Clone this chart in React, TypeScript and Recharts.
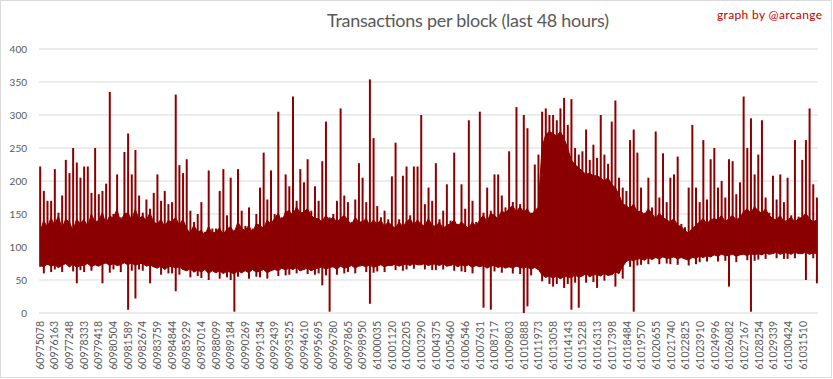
import React from "react";
import { ComposedChart, Area, Bar, XAxis, YAxis, CartesianGrid } from "recharts";

// block numbers shown under the x axis
const tickBlocks = [
  60975078, 60976163, 60977248, 60978333, 60979418, 60980504, 60981589, 60982674,
  60983759, 60984844, 60985929, 60987014, 60988099, 60989184, 60990269, 60991354,
  60992439, 60993525, 60994610, 60995695, 60996780, 60997865, 60998950, 61000035,
  61001120, 61002205, 61003290, 61004375, 61005460, 61006546, 61007631, 61008717,
  61009803, 61010888, 61011973, 61013058, 61014143, 61015228, 61016313, 61017398,
  61018484, 61019570, 61020655, 61021740, 61022825, 61023910, 61024996, 61026082,
  61027167, 61028254, 61029339, 61030424, 61031510,
];

const yTicks = [0, 50, 100, 150, 200, 250, 300, 350, 400];

// ~57k blocks in buckets of 271 blocks
const FIRST_BLOCK = 60975078;
const BUCKET = 271;

// top of the solid part of the band
const coreHigh = [
  122, 140, 130, 144, 133, 147, 128, 142, 138, 125, 142, 135, 142, 131, 150, 138,
  140, 152, 135, 147, 144, 157, 138, 150, 152, 141, 157, 143, 147, 140, 152, 138,
  135, 142, 131, 140, 138, 145, 133, 142, 128, 121, 133, 123, 125, 118, 131, 121,
  123, 129, 119, 127, 131, 121, 138, 128, 125, 133, 121, 135, 133, 128, 141, 135,
  143, 151, 138, 153, 155, 148, 161, 151, 153, 158, 148, 143, 143, 138, 148, 141,
  145, 138, 143, 148, 141, 133, 145, 138, 138, 143, 133, 141, 135, 141, 131, 138,
  133, 128, 138, 131, 138, 143, 133, 141, 135, 131, 143, 133, 131, 138, 128, 133,
  135, 141, 131, 138, 133, 128, 138, 131, 141, 148, 138, 151, 148, 143, 155, 151,
  158, 163, 153, 161, 153, 158, 148, 155, 160, 250, 270, 275, 272, 268, 275, 265,
  250, 232, 225, 220, 215, 210, 212, 208, 208, 205, 200, 205, 195, 190, 180, 165,
  163, 158, 165, 153, 155, 148, 158, 151, 143, 151, 145, 141, 138, 143, 133, 131,
  125, 121, 128, 133, 138, 143, 135, 141, 143, 141, 148, 138, 143, 148, 141, 145,
  153, 158, 151, 161, 155, 151, 158, 148, 143, 141, 148, 138, 141, 145, 138, 143,
  145, 151, 143, 138, 141,
];

// highest block in each bucket
const bucketPeak = [
  130, 165, 138, 170, 150, 152, 160, 145, 172, 130, 148, 165, 148, 160, 178, 142,
  180, 158, 140, 175, 150, 185, 145, 160, 190, 148, 165, 178, 152, 172, 158, 180,
  140, 170, 135, 165, 168, 150, 160, 148, 132, 155, 138, 150, 150, 123, 145, 128,
  128, 150, 125, 148, 160, 126, 142, 155, 132, 160, 128, 150, 165, 132, 172, 140,
  150, 180, 145, 185, 190, 155, 170, 178, 158, 195, 155, 170, 170, 142, 175, 145,
  150, 170, 148, 165, 168, 138, 172, 142, 145, 168, 138, 160, 162, 145, 155, 142,
  138, 160, 142, 165, 170, 148, 165, 145, 140, 165, 148, 170, 160, 142, 155, 138,
  140, 170, 135, 165, 158, 132, 170, 138, 175, 152, 168, 155, 180, 148, 178, 160,
  185, 168, 195, 165, 160, 190, 152, 180, 190, 290, 305, 300, 300, 292, 310, 288,
  285, 262, 248, 240, 245, 250, 232, 240, 235, 228, 240, 226, 215, 210, 205, 190,
  185, 162, 195, 160, 180, 152, 178, 160, 148, 175, 150, 168, 165, 145, 160, 135,
  130, 152, 132, 160, 168, 146, 172, 145, 148, 170, 152, 175, 172, 150, 180, 148,
  158, 185, 155, 190, 180, 155, 175, 152, 150, 172, 148, 168, 168, 148, 170, 146,
  150, 178, 145, 165, 160,
];

// bottom of the solid part of the band
const coreLow = [
  72, 70, 74, 71, 73, 69, 72, 75, 70, 74, 69, 72, 72, 75, 70, 73,
  71, 74, 76, 72, 75, 72, 73, 76, 73, 76, 72, 75, 75, 71, 73, 70,
  68, 71, 66, 70, 71, 68, 70, 66, 64, 67, 62, 65, 62, 66, 60, 64,
  61, 64, 60, 63, 62, 59, 64, 61, 64, 61, 66, 62, 63, 66, 61, 64,
  66, 64, 68, 65, 68, 66, 69, 64, 66, 68, 64, 67, 68, 70, 66, 69,
  70, 66, 71, 68, 69, 72, 68, 71, 72, 70, 73, 69, 71, 73, 70, 72,
  72, 74, 71, 73, 74, 72, 75, 73, 73, 75, 72, 74, 74, 72, 75, 71,
  72, 74, 70, 73, 71, 73, 69, 72, 70, 72, 68, 71, 72, 69, 71, 68,
  70, 68, 71, 69, 68, 70, 66, 69, 66, 58, 54, 56, 53, 56, 52, 55,
  55, 53, 58, 54, 56, 60, 55, 58, 58, 56, 60, 57, 58, 62, 60, 70,
  78, 81, 79, 82, 82, 80, 84, 81, 84, 82, 85, 83, 83, 85, 82, 84,
  82, 80, 84, 83, 86, 84, 87, 85, 88, 86, 89, 87, 87, 89, 86, 88,
  89, 87, 90, 88, 90, 88, 91, 89, 90, 92, 89, 91, 91, 89, 92, 90,
  90, 92, 89, 91, 90,
];

// lowest block in each bucket
const bucketFloor = [
  70, 60, 73, 62, 66, 69, 62, 74, 70, 63, 69, 65, 62, 75, 64, 73,
  71, 63, 75, 61, 66, 72, 62, 76, 73, 64, 72, 66, 64, 71, 62, 70,
  68, 58, 66, 60, 60, 68, 58, 66, 64, 54, 62, 56, 53, 66, 50, 64,
  61, 52, 60, 54, 50, 59, 55, 61, 64, 52, 66, 55, 54, 66, 52, 64,
  66, 56, 68, 57, 58, 66, 60, 64, 66, 59, 64, 58, 60, 70, 57, 69,
  70, 58, 71, 60, 62, 72, 60, 71, 72, 62, 73, 61, 63, 73, 62, 72,
  72, 65, 71, 64, 66, 72, 67, 73, 73, 66, 72, 65, 65, 72, 66, 71,
  72, 64, 70, 63, 62, 73, 60, 72, 70, 62, 68, 61, 63, 69, 61, 68,
  70, 60, 71, 59, 60, 70, 57, 69, 66, 48, 54, 44, 53, 44, 52, 42,
  44, 53, 46, 54, 56, 46, 55, 47, 48, 56, 49, 57, 58, 50, 60, 62,
  78, 70, 79, 72, 73, 80, 74, 81, 84, 74, 85, 75, 74, 85, 73, 84,
  82, 72, 84, 74, 77, 84, 78, 85, 88, 78, 89, 79, 79, 89, 77, 88,
  89, 80, 90, 79, 81, 88, 82, 89, 90, 83, 89, 82, 82, 89, 83, 90,
  90, 82, 89, 83, 84,
];

// isolated high blocks
const spikeBlocks = [
  60975078, 60975226, 60975596, 60976262, 60976631, 60976927, 60977149, 60977445,
  60977815, 60978185, 60978259, 60978555, 60978850, 60979220, 60979664, 60979960,
  60980182, 60980330, 60980700, 60981439, 60981661, 60981883, 60982105, 60983437,
  60983659, 60983806, 60984176, 60985064, 60985360, 60985582, 60985804, 60987061,
  60987505, 60987653, 60988245, 60988615, 60989206, 60989798, 60991203, 60991647,
  60992239, 60992757, 60993127, 60993423, 60993718, 60993866, 60994236, 60994532,
  60994976, 60995420, 60995864, 60996085, 60997269, 60997639, 60998526, 60998748,
  60999044, 60999414, 60999784, 61000967, 61001485, 61001855, 61002299, 61002669,
  61002891, 61003113, 61003335, 61003705, 61004444, 61005036, 61005628, 61005776,
  61006367, 61006663, 61007477, 61007699, 61008217, 61008734, 61009030, 61009696,
  61009844, 61010214, 61010362, 61010806, 61011249, 61011693, 61012063, 61012211,
  61012507, 61013320, 61013838, 61014356, 61014726, 61015096, 61015540, 61016131,
  61016427, 61016649, 61017463, 61017685, 61017981, 61018202, 61018646, 61018794,
  61018868, 61019238, 61019608, 61020052, 61020570, 61020718, 61021013, 61021161,
  61021605, 61022049, 61022197, 61022937, 61023380, 61023528, 61024046, 61024638,
  61024860, 61025156, 61025452, 61026044, 61026339, 61026783, 61027153, 61027301,
  61027449, 61027523, 61028041, 61028262, 61028558, 61029372, 61029742, 61030334,
  61030777, 61031443, 61031665, 61031887, 61031961, 61032257, 61032553,
];
const spikeTops = [
  222, 185, 170, 218, 178, 232, 212, 250, 228, 205, 222, 222, 182, 250, 185, 196,
  335, 240, 210, 244, 272, 210, 247, 182, 208, 210, 185, 331, 224, 212, 233, 168,
  216, 205, 185, 218, 205, 218, 190, 243, 216, 305, 210, 192, 305, 328, 218, 198,
  233, 192, 230, 290, 310, 178, 227, 208, 205, 354, 265, 207, 258, 208, 222, 222,
  215, 222, 300, 190, 227, 195, 243, 218, 195, 292, 178, 305, 190, 210, 210, 240,
  245, 270, 312, 300, 280, 225, 240, 305, 310, 292, 326, 324, 250, 245, 278, 255,
  262, 300, 290, 322, 185, 190, 225, 262, 278, 243, 190, 205, 250, 275, 242, 205,
  205, 210, 237, 190, 285, 190, 262, 233, 250, 190, 200, 233, 230, 198, 328, 210,
  250, 295, 210, 240, 292, 208, 210, 205, 262, 232, 262, 267, 310, 195, 175,
];

// isolated low blocks
const dipBlocks = [
  60977815, 60979812, 60981661, 60982105, 60983289, 60985064, 60989428, 60995938,
  60996603, 60999414, 61007773, 61008365, 61010732, 61011249, 61012951, 61013912,
  61014356, 61014800, 61016353, 61017685, 61018055, 61018868, 61026044, 61027597,
  61031739, 61032553,
];
const dipBottoms = [
  45, 45, 5, 22, 45, 33, 2, 42, 2, 14, 8, 5, 0, 10, 40, 38,
  5, 8, 38, 40, 52, 2, 40, 2, 50, 45,
];

const data = coreHigh.map((hi, i) => ({
  block: FIRST_BLOCK + i * BUCKET,
  band: [coreLow[i], hi],
  needle: [bucketFloor[i], bucketPeak[i]],
}));

const bucketOf = (b: number) =>
  Math.min(data.length - 1, Math.max(0, Math.round((b - FIRST_BLOCK) / BUCKET)));

spikeBlocks.forEach((b, j) => {
  const row = data[bucketOf(b)];
  row.needle = [row.needle[0], Math.max(row.needle[1], spikeTops[j])];
});
dipBlocks.forEach((b, j) => {
  const row = data[bucketOf(b)];
  row.needle = [Math.min(row.needle[0], dipBottoms[j]), row.needle[1]];
});

const RED = "#8B0000";
const GREY = "#595959";
const FONT = "Lato, 'Open Sans', sans-serif";

const BlockTick = ({ x, y, payload }: any) => (
  <text
    x={x}
    y={y}
    dy="0.35em"
    transform={`rotate(-90, ${x}, ${y})`}
    textAnchor="end"
    fill={GREY}
    fontSize={10.5}
    fontFamily={FONT}
  >
    {payload.value}
  </text>
);

export default function App() {
  return (
    <div
      style={{
        position: "absolute",
        left: 0,
        top: 0,
        width: 833,
        height: 379,
        background: "#fff",
      }}
    >
      <svg
        width={833}
        height={379}
        style={{ position: "absolute", left: 0, top: 0 }}
      >
        <rect x={0.5} y={0.5} width={831} height={377} fill="#fff" stroke="#D9D9D9" />
        <text
          x={468}
          y={27}
          textAnchor="middle"
          fontSize={18}
          fontFamily={FONT}
          fill={GREY}
          textLength={282}
        >
          Transactions per block (last 48 hours)
        </text>
        <text
          x={822}
          y={18.5}
          textAnchor="end"
          fontSize={12}
          fontFamily={FONT}
          fill="#C00000"
          textLength={105}
        >
          graph by @arcange
        </text>
      </svg>
      <div style={{ position: "absolute", left: 0, top: 0 }}>
        <ComposedChart
          width={833}
          height={379}
          data={data}
          margin={{ top: 49, right: 15, bottom: 0, left: 0 }}
        >
          <CartesianGrid vertical={false} stroke="#D9D9D9" />
          <XAxis
            dataKey="block"
            type="number"
            domain={[60975004, 61032623]}
            allowDataOverflow
            ticks={tickBlocks}
            interval={0}
            height={66}
            axisLine={false}
            tickLine={false}
            tickSize={0}
            tickMargin={8}
            tick={<BlockTick />}
          />
          <YAxis
            domain={[0, 400]}
            ticks={yTicks}
            width={39}
            axisLine={false}
            tickLine={false}
            tickSize={0}
            tickMargin={12}
            tick={{ fill: GREY, fontSize: 10, fontFamily: FONT }}
          />
          <Area
            dataKey="band"
            type="linear"
            stroke={RED}
            strokeWidth={1}
            fill={RED}
            fillOpacity={1}
            isAnimationActive={false}
          />
          <Bar dataKey="needle" fill={RED} barSize={2} isAnimationActive={false} />
        </ComposedChart>
      </div>
    </div>
  );
}
